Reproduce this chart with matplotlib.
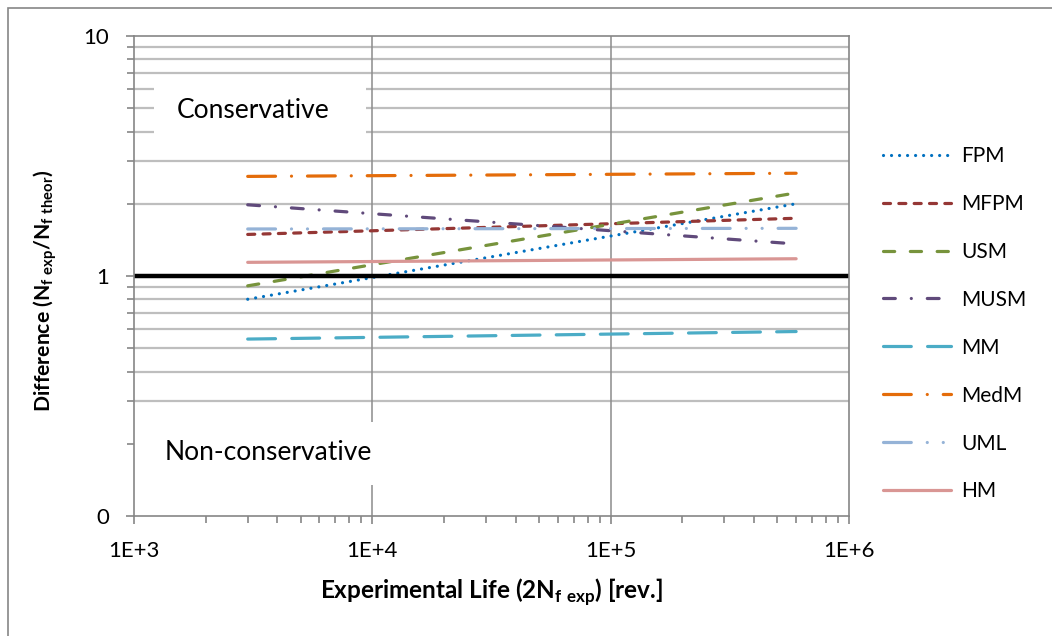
import matplotlib
matplotlib.use("Agg")
import matplotlib.pyplot as plt
from matplotlib.patches import Rectangle
from matplotlib.ticker import FixedLocator, LogLocator, NullFormatter

plt.rcParams['font.family'] = ['Lato', 'DejaVu Sans']
plt.rcParams['mathtext.fontset'] = 'custom'
plt.rcParams['mathtext.rm'] = 'Lato:bold'
plt.rcParams['mathtext.bf'] = 'Lato:bold'

# fitted lines, evaluated at the two ends of the tested range
life = [3000, 600000]
fpm = [0.80, 2.00]
mfpm = [1.49, 1.74]
usm = [0.91, 2.22]
musm = [1.98, 1.36]
mm = [0.546, 0.587]
medm = [2.60, 2.68]
uml = [1.57, 1.58]
hm = [1.14, 1.18]

names = ['FPM', 'MFPM', 'USM', 'MUSM', 'MM', 'MedM', 'UML', 'HM']
series = [fpm, mfpm, usm, musm, mm, medm, uml, hm]
colors = ['#0070C0', '#953735', '#77933C', '#604A7B', '#4BACC6', '#E46C0A', '#95B3D7', '#D99694']
styles = [(0, (0.01, 2.5)),
          (0, (2.2, 2.6)),
          (0, (3.5, 4.9)),
          (0, (3.7, 5.0, 0.01, 5.0)),
          (0, (8.7, 5.1)),
          (0, (8.7, 5.0, 0.01, 5.0)),
          (0, (8.7, 5.0, 0.01, 5.0, 0.01, 5.0)),
          '-']

W, H = 1052, 636
fig = plt.figure(figsize=(W / 100, H / 100), dpi=100)
ax = fig.add_axes([134 / W, 1 - 516 / H, 715 / W, 480 / H])

# chart area frame (only left and top edges fall inside the image)
fig.patches.append(Rectangle((8 / W, -0.2), 1.5, (1 - 8 / H) + 0.2, transform=fig.transFigure,
                             fill=False, edgecolor='#868686', linewidth=1.2))

ax.set_xscale('log')
ax.set_yscale('log')
ax.set_xlim(1e3, 1e6)
ax.set_ylim(0.1, 10)

grid_c = '#BEBEBE'
for v in [0.3, 0.4, 0.5, 0.6, 0.7, 0.8, 0.9, 2, 3, 4, 5, 6, 7, 8, 9]:
    ax.axhline(v, color=grid_c, lw=1.6, zorder=0.5)
for v in [1e4, 1e5]:
    ax.axvline(v, color='#8C8C8C', lw=1.1, zorder=0.5)

# white text boxes over the grid
ax.add_patch(Rectangle(((154 - 134) / 715, (516 - 150) / 480), 212 / 715, 72 / 480,
                       transform=ax.transAxes, facecolor='white', edgecolor='none', zorder=0.8))
ax.add_patch(Rectangle(((140 - 134) / 715, (516 - 485) / 480), 238 / 715, 63 / 480,
                       transform=ax.transAxes, facecolor='white', edgecolor='none', zorder=0.8))
ax.text((253 - 134) / 715, (516 - 111) / 480, 'Conservative', transform=ax.transAxes,
        ha='center', va='center', fontsize=19, zorder=3)
ax.text((268 - 134) / 715, (516 - 453) / 480, 'Non-conservative', transform=ax.transAxes,
        ha='center', va='center', fontsize=19, zorder=3)

for name, vals, c, ls in zip(names, series, colors, styles):
    ax.plot(life, vals, color=c, linestyle=ls, lw=2.3, label=name,
            dash_capstyle='round', solid_capstyle='round', zorder=2)

ax.axhline(1, color='black', lw=3.2, zorder=2.5)

for s in ax.spines.values():
    s.set_color('#868686')
    s.set_linewidth(1.2)

ax.xaxis.set_major_locator(FixedLocator([1e3, 1e4, 1e5, 1e6]))
ax.set_xticklabels(['1E+3', '1E+4', '1E+5', '1E+6'])
ax.xaxis.set_minor_locator(LogLocator(base=10, subs=range(2, 10)))
ax.xaxis.set_minor_formatter(NullFormatter())
ax.yaxis.set_major_locator(FixedLocator([0.1, 1, 10]))
ax.set_yticklabels(['0', '1', '10'])
ax.yaxis.set_minor_locator(LogLocator(base=10, subs=range(2, 10)))
ax.yaxis.set_minor_formatter(NullFormatter())
ax.tick_params(which='both', direction='out', color='#868686', width=1.2, labelsize=16)
ax.tick_params(which='major', length=6, pad=12)
ax.tick_params(which='minor', length=5)

fig.text(491 / W, 1 - 592 / H, 'Experimental Life (2N$_{\\mathrm{f\\ exp}}$) [rev.]', fontsize=17.5,
         fontweight='bold', ha='center', va='center')
fig.text(45 / W, 1 - 291 / H, 'Difference (N$_{\\mathrm{f\\ exp}}$/N$_{\\mathrm{f\\ theor}}$)',
         fontsize=15.2, fontweight='bold', ha='center', va='center', rotation=90)

fig.legend(loc='upper left', bbox_to_anchor=(883 / W, 1 - 146 / H), frameon=False,
           fontsize=15, handlelength=3.27, handletextpad=0.48, labelspacing=1.34,
           borderpad=0, borderaxespad=0)

fig.savefig('out.png', dpi=100)
